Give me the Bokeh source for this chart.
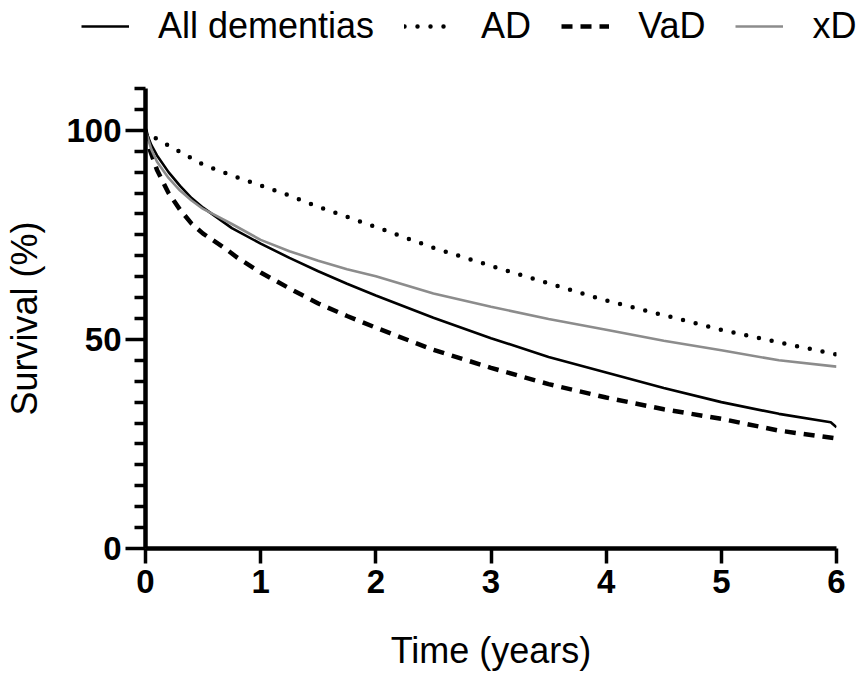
from bokeh.plotting import figure
from bokeh.models import Range1d, FixedTicker, Legend, LegendItem
from bokeh.layouts import column
from bokeh.embed import file_html
from bokeh.resources import INLINE

# ---- data ----
t_all = [0, 0.05, 0.1, 0.2, 0.3, 0.4, 0.5, 0.75, 1.0, 1.25, 1.5, 1.75, 2.0, 2.5, 3.0, 3.5, 4.0, 4.5, 5.0, 5.5, 5.95, 6.0]
s_all = [100, 96.5, 94.0, 90.0, 86.7, 83.8, 81.5, 76.6, 72.9, 69.5, 66.3, 63.3, 60.5, 55.2, 50.3, 45.8, 42.1, 38.4, 35.0, 32.2, 30.2, 29.0]

t_ad = [0, 0.07, 0.25, 0.5, 0.75, 1.0, 1.25, 1.5, 1.75, 2.0, 2.5, 3.0, 3.5, 4.0, 4.5, 5.0, 5.5, 6.0]
s_ad = [100, 98.4, 95.6, 91.8, 89.2, 86.8, 84.4, 81.7, 79.3, 76.9, 71.9, 67.6, 63.4, 59.3, 55.8, 52.3, 49.3, 46.4]

t_vad = [0, 0.04, 0.1, 0.2, 0.3, 0.4, 0.5, 0.7, 0.8, 1.0, 1.25, 1.5, 1.75, 2.0, 2.5, 3.0, 3.5, 4.0, 4.5, 5.0, 5.5, 6.0]
s_vad = [100, 95.2, 90.5, 85.0, 81.0, 77.7, 75.3, 71.6, 69.5, 66.0, 62.2, 58.6, 55.6, 52.8, 47.5, 43.2, 39.3, 36.1, 33.3, 31.0, 28.2, 26.3]

t_xd = [0, 0.05, 0.1, 0.2, 0.3, 0.4, 0.5, 0.6, 0.75, 1.0, 1.25, 1.5, 1.75, 2.0, 2.5, 3.0, 3.5, 4.0, 4.5, 5.0, 5.5, 6.0]
s_xd = [100, 95.5, 92.5, 88.6, 85.6, 83.2, 81.2, 79.8, 77.6, 73.8, 71.1, 68.8, 66.8, 65.1, 61.0, 57.8, 54.9, 52.3, 49.7, 47.4, 45.0, 43.5]

series_names = ["All dementias", "AD", "VaD", "xD"]
x_ticks = [0, 1, 2, 3, 4, 5, 6]
y_ticks = [0, 50, 100]
y_minor = [v for v in range(5, 115, 5) if v not in y_ticks]

FONT = "Liberation Sans"
styles = [dict(line_color="black", line_width=2.6),
          dict(line_color="black", line_width=4.5, line_dash="0 13", line_cap="round"),
          dict(line_color="black", line_width=4.5, line_dash="11 8"),
          dict(line_color="#8c8c8c", line_width=2.6)]
data = [(t_all, s_all), (t_ad, s_ad), (t_vad, s_vad), (t_xd, s_xd)]

# ---- main chart ----
p = figure(width=858, height=597, output_backend="svg", toolbar_location=None,
           x_range=Range1d(0, 6), y_range=Range1d(0, 110),
           min_border_left=145, min_border_right=22, min_border_top=10, min_border_bottom=127)
p.frame_align = False
p.outline_line_color = None
p.grid.visible = False

for (tx, sy), st in zip(data, styles):
    p.line(tx, sy, **st)

for ax in (p.xaxis[0], p.yaxis[0]):
    ax.axis_line_width = 4.5
    ax.axis_line_color = "black"
    ax.major_tick_line_width = 3.5
    ax.minor_tick_line_width = 3.5
    ax.major_tick_in = 0
    ax.minor_tick_in = 0
    ax.major_label_text_font = FONT
    ax.major_label_text_font_style = "bold"
    ax.major_label_text_font_size = "33px"
    ax.major_label_text_color = "black"
    ax.axis_label_text_font = FONT
    ax.axis_label_text_font_style = "normal"
    ax.axis_label_text_font_size = "36px"
    ax.axis_label_text_color = "black"

p.xaxis.ticker = FixedTicker(ticks=x_ticks, minor_ticks=[])
p.xaxis.major_tick_out = 15
p.xaxis.major_label_standoff = 6
p.xaxis.axis_label = "Time (years)"
p.xaxis.axis_label_standoff = 34

p.yaxis.ticker = FixedTicker(ticks=y_ticks, minor_ticks=y_minor)
p.yaxis.major_tick_out = 20
p.yaxis.minor_tick_out = 11
p.yaxis.major_label_standoff = 4
p.yaxis.axis_label = "Survival (%)"
p.yaxis.axis_label_standoff = 18

# ---- legend strip on top (its view window lies away from the data, so only the legend shows) ----
lg = figure(width=858, height=78, output_backend="svg", toolbar_location=None,
            x_range=Range1d(-1000, -142), y_range=Range1d(0, 78),
            min_border_left=0, min_border_right=0, min_border_top=0, min_border_bottom=0)
lg.frame_align = False
lg.outline_line_color = None
lg.axis.visible = False
lg.grid.visible = False
items = []
for name, (tx, sy), st in zip(series_names, data, styles):
    r = lg.line(tx, sy, **st)
    items.append(LegendItem(label=name, renderers=[r]))
legend = Legend(items=items, orientation="horizontal", location=(81, 31),
                glyph_width=48, glyph_height=30, label_standoff=29, spacing=30,
                padding=0, margin=0, border_line_alpha=0, background_fill_alpha=0,
                label_text_font=FONT, label_text_font_size="36px", label_text_color="black")
lg.add_layout(legend, "center")

layout = column(lg, p, spacing=0)
open("out.html", "w").write(file_html(layout, INLINE))
